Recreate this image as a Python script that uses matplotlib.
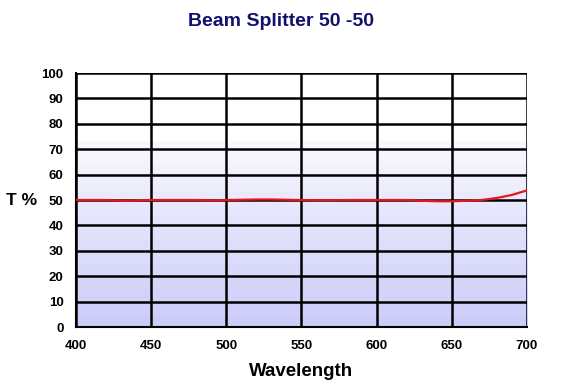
import numpy as np
import matplotlib
matplotlib.use("Agg")
import matplotlib.pyplot as plt
from matplotlib.colors import ListedColormap

# data
wavelength = [400, 420, 430, 440, 450, 480, 490, 500, 520, 530, 540, 550,
              560, 570, 580, 600, 620, 630, 640, 650, 660, 670, 680, 690, 700]
transmission = [50, 50, 49.7, 49.8, 50, 50, 49.8, 50, 50.2, 50.2, 50.1, 50,
                49.9, 49.9, 50, 50, 50, 49.7, 49.5, 49.5, 49.7, 50, 50.8, 52, 53.8]
x_ticks = [400, 450, 500, 550, 600, 650, 700]
y_ticks = list(range(0, 101, 10))

plt.rcParams['font.family'] = ['Liberation Sans', 'DejaVu Sans']
fig = plt.figure(figsize=(5.62, 3.9), dpi=100)
ax = fig.add_axes([0.1352, 0.1615, 0.8025, 0.6513])

# banded lavender background, white in the upper part
nb = 15
levels = np.linspace(0, 1, nb)
cols = [(0.80 + 0.17 * t, 0.80 + 0.17 * t, 0.98 + 0.02 * t) for t in levels]
cmap = ListedColormap(cols)
grad = np.linspace(0, 1, nb).reshape(-1, 1)
ax.imshow(grad, cmap=cmap, aspect='auto', origin='lower',
          extent=[400, 700, 0, 73], interpolation='nearest', zorder=0)

ax.plot(wavelength, transmission, color='#e8141e', lw=1.6, zorder=3)

ax.set_xlim(400, 700)
ax.set_ylim(0, 100)
ax.set_xticks(x_ticks)
ax.set_yticks(y_ticks)
ax.grid(True, color='black', lw=1.8, zorder=2)
ax.set_axisbelow(False)
ax.tick_params(length=0, labelsize=9.5, pad=9)
for lab in ax.get_xticklabels() + ax.get_yticklabels():
    lab.set_fontweight('bold')
for s in ['top', 'right']:
    ax.spines[s].set_visible(False)
for s in ['left', 'bottom']:
    ax.spines[s].set_linewidth(1.5)

ax.set_xlabel('Wavelength', fontsize=13.5, fontweight='bold', labelpad=8)
fig.text(0.011, 0.485, 'T %', fontsize=12.5, fontweight='bold', va='center')
fig.text(0.5, 0.945, 'Beam Splitter 50 -50', fontsize=14, fontweight='bold',
         color='#10106e', ha='center', va='center')

fig.savefig('out.png', dpi=100)
